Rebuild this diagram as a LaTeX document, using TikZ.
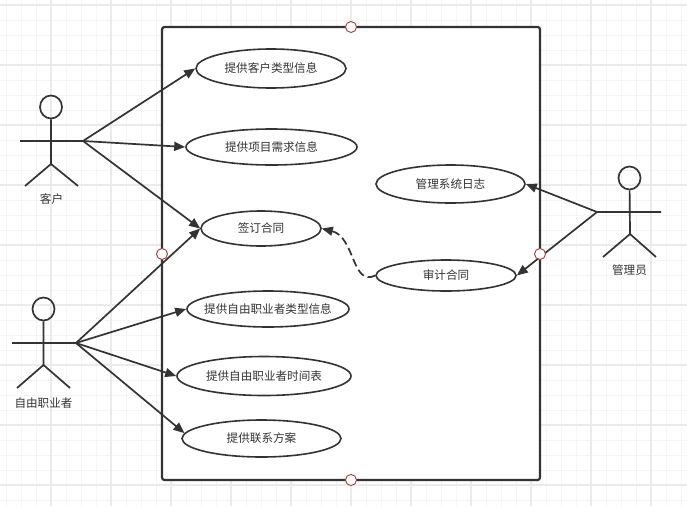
\documentclass[tikz,border=0pt]{standalone}
\usepackage{fontspec}
\setmainfont{Noto Sans CJK SC}
\usetikzlibrary{arrows.meta,shapes.geometric}
\definecolor{inkgray}{HTML}{333333}
\definecolor{gridminor}{HTML}{F5F5F5}
\definecolor{gridmajor}{HTML}{EBEBEB}
\definecolor{portred}{HTML}{A33B3B}
\tikzset{
  usecase/.style={draw=inkgray,line width=1.6pt,fill=white,ellipse,inner sep=0pt,text=inkgray,font=\fontsize{11.6}{14}\selectfont},
  actorline/.style={draw=inkgray,line width=1.7pt},
  actorhead/.style={draw=inkgray,line width=1.7pt,ellipse,inner sep=0pt,minimum width=22pt,minimum height=23pt},
  actorname/.style={text=inkgray,inner sep=0pt,font=\fontsize{11.6}{14}\selectfont},
  link/.style={draw=inkgray,line width=1.7pt,-{Triangle[length=11pt,width=9pt]}},
  port/.style={circle,draw=portred,line width=0.9pt,fill=white,inner sep=0pt,minimum size=11pt}
}
\begin{document}
\begin{tikzpicture}[x=1pt,y=-1pt]
  \useasboundingbox (0,0) rectangle (687,506);
  \fill[white] (0,0) rectangle (687,506);
  % grid
  \foreach \gx in {6,21,...,681} \draw[gridminor,line width=1pt] (\gx,0) -- (\gx,506);
  \foreach \gy in {5,20,...,500} \draw[gridminor,line width=1pt] (0,\gy) -- (687,\gy);
  \foreach \gx in {51,111,...,651} \draw[gridmajor,line width=1.4pt] (\gx,0) -- (\gx,506);
  \foreach \gy in {5,65,...,485} \draw[gridmajor,line width=1.4pt] (0,\gy) -- (687,\gy);
  % system box
  \draw[inkgray,line width=2.2pt,fill=white,rounded corners=2.5pt] (162,27) rectangle (540,480);
  % use cases
  \node[usecase,minimum width=150pt,minimum height=39pt] (clienttype) at (271,68.5) {提供客户类型信息};
  \node[usecase,minimum width=171pt,minimum height=36pt] (projectneed) at (271.5,147) {提供项目需求信息};
  \node[usecase,minimum width=120pt,minimum height=35pt] (contract) at (261,228.5) {签订合同};
  \node[usecase,minimum width=162pt,minimum height=36pt] (freetype) at (268,309) {\makebox[0pt]{提供自由职业者类型信息}};
  \node[usecase,minimum width=174pt,minimum height=39pt] (freetime) at (264,376) {提供自由职业者时间表};
  \node[usecase,minimum width=159pt,minimum height=37pt] (contact) at (261.5,438.5) {提供联系方案};
  \node[usecase,minimum width=149pt,minimum height=38pt] (syslog) at (450.5,184) {管理系统日志};
  \node[usecase,minimum width=140pt,minimum height=31pt] (audit) at (446,275.5) {审计合同};
  % client actor
  \node[actorhead] (clienthead) at (51,107) {};
  \coordinate (clientleft) at (20,141);
  \coordinate (clientright) at (83,141);
  \coordinate (clienthip) at (51,164);
  \coordinate (clientfootl) at (25,186);
  \coordinate (clientfootr) at (78,186);
  \draw[actorline] (clienthead) -- (clienthip) (clientleft) -- (clientright) (clientfootl) -- (clienthip) -- (clientfootr);
  \node[actorname] (clientname) at (51.5,199) {客户};
  % freelancer actor
  \node[actorhead] (freehead) at (43.5,309) {};
  \coordinate (freeleft) at (12,343);
  \coordinate (freeright) at (76,343);
  \coordinate (freehip) at (43.5,365);
  \coordinate (freefootl) at (17,388);
  \coordinate (freefootr) at (70,388);
  \draw[actorline] (freehead) -- (freehip) (freeleft) -- (freeright) (freefootl) -- (freehip) -- (freefootr);
  \node[actorname] (freename) at (43.5,403) {自由职业者};
  % admin actor
  \node[actorhead] (adminhead) at (629.5,178) {};
  \coordinate (adminleft) at (597,212);
  \coordinate (adminright) at (661,212);
  \coordinate (adminhip) at (630,234);
  \coordinate (adminfootl) at (603,257);
  \coordinate (adminfootr) at (656,257);
  \draw[actorline] (adminhead) -- (adminhip) (adminleft) -- (adminright) (adminfootl) -- (adminhip) -- (adminfootr);
  \node[actorname] (adminname) at (629.5,270) {管理员};
  % links
  \draw[link] (clientright) -- (clienttype.west);
  \draw[link] (clientright) -- (projectneed.west);
  \draw[link] (clientright) -- (contract.west);
  \draw[link] (freeright) -- (contract.west);
  \draw[link] (freeright) -- (freetype.west);
  \draw[link] (freeright) -- (freetime.west);
  \draw[link] (freeright) -- (contact.176);
  \draw[link] (adminleft) -- (syslog.east);
  \draw[link] (adminleft) -- (audit.east);
  \draw[link,dash pattern=on 8pt off 4pt] (audit.west) .. controls (352,287) and (355,237) .. (contract.east);
  % ports
  \node[port] (porttop) at (351,27) {};
  \node[port] (portleft) at (162,254) {};
  \node[port] (portright) at (540,254) {};
  \node[port] (portbottom) at (351,480) {};
\end{tikzpicture}
\end{document}
